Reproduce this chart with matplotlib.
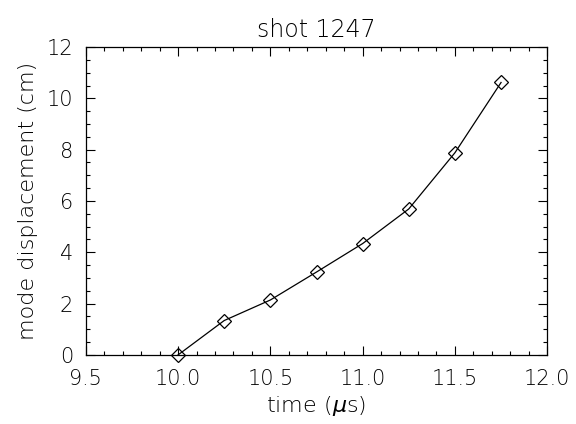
import matplotlib
matplotlib.use("Agg")
import matplotlib.pyplot as plt
from matplotlib.ticker import MultipleLocator

time_us = [10.0, 10.25, 10.5, 10.75, 11.0, 11.25, 11.5, 11.75]
displacement_cm = [0.0, 1.34, 2.14, 3.23, 4.34, 5.69, 7.88, 10.62]
x_ticks = [9.5, 10.0, 10.5, 11.0, 11.5, 12.0]
y_ticks = [0, 2, 4, 6, 8, 10, 12]

plt.rcParams['font.family'] = ['DejaVu Sans']
plt.rcParams['font.weight'] = 'light'
plt.rcParams['axes.titleweight'] = 'light'
plt.rcParams['axes.labelweight'] = 'light'
fig = plt.figure(figsize=(5.76, 4.24), dpi=100)
ax = fig.add_axes([0.149, 0.163, 0.801, 0.726])
ax.plot(time_us, displacement_cm, color='black', lw=0.9, marker='D',
        markersize=7, markerfacecolor='none', markeredgecolor='black', markeredgewidth=0.9,
        clip_on=False)
ax.set_xlim(9.5, 12.0)
ax.set_ylim(0, 12)
ax.set_xticks(x_ticks)
ax.set_xticklabels([f"{v:.1f}" for v in x_ticks])
ax.set_yticks(y_ticks)
ax.set_yticklabels([str(v) for v in y_ticks])
ax.xaxis.set_minor_locator(MultipleLocator(0.1))
ax.yaxis.set_minor_locator(MultipleLocator(0.5))
ax.tick_params(which='both', direction='in', top=True, right=True, labelsize=15,
               color='black', labelcolor='black')
ax.tick_params(which='major', length=6.5, width=0.8)
ax.tick_params(which='minor', length=3, width=0.8)
ax.tick_params(axis='x', which='major', pad=10)
ax.tick_params(axis='y', which='major', pad=9)
for s in ax.spines.values():
    s.set_linewidth(0.9)
ax.set_xlabel(r"time ($\mu$s)", fontsize=16, labelpad=4)
ax.set_ylabel("mode displacement (cm)", fontsize=16, labelpad=6)
ax.set_title("shot 1247", fontsize=17, pad=7)
fig.savefig("out.png", dpi=100)
